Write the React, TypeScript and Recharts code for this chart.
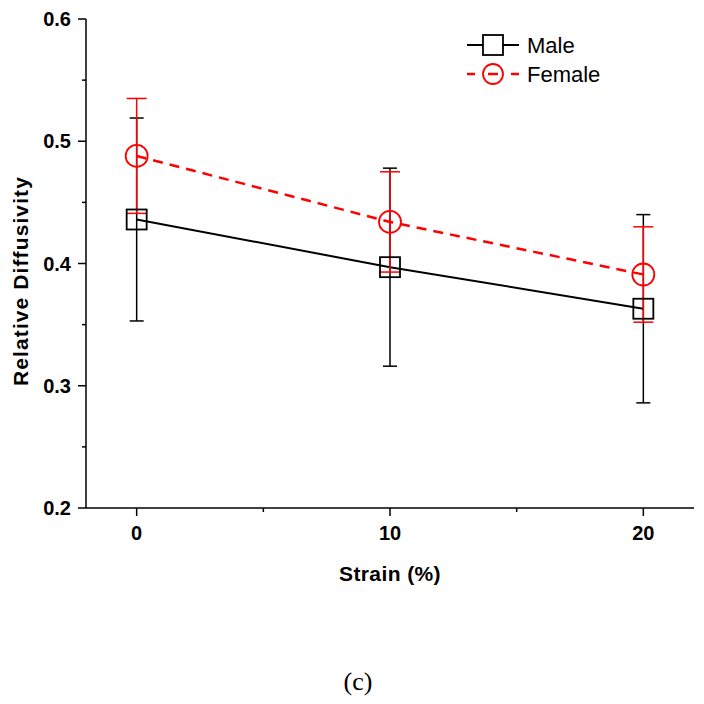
import { LineChart, Line, XAxis, YAxis, ErrorBar, Legend } from "recharts";

const strain = [0, 10, 20];
const maleMean = [0.436, 0.397, 0.363];
const maleErr = [0.083, 0.081, 0.077];
const femaleMean = [0.488, 0.434, 0.391];
const femaleErr = [0.047, 0.041, 0.039];

const xTicks = [0, 5, 10, 15, 20];
const yTicks = [0.2, 0.25, 0.3, 0.35, 0.4, 0.45, 0.5, 0.55, 0.6];

const seriesNames = ["Male", "Female"];

const SANS = "'Liberation Sans', Arial, Helvetica, sans-serif";
const RED = "#ff0000";

const data = strain.map((s, i) => ({
  strain: s,
  male: maleMean[i],
  maleErr: maleErr[i],
  female: femaleMean[i],
  femaleErr: femaleErr[i],
}));

function YTick(props: any) {
  const { x, y, payload } = props;
  const v = payload.value;
  const major = Math.round(v * 100) % 10 === 0;
  return (
    <g>
      <line x1={x} y1={y} x2={x - (major ? 8 : 4)} y2={y} stroke="#000" strokeWidth={1.5} />
      {major && (
        <text
          x={x - 15}
          y={y}
          textAnchor="end"
          dominantBaseline="central"
          fontFamily={SANS}
          fontWeight="bold"
          fontSize={20}
          fill="#000"
        >
          {v.toFixed(1)}
        </text>
      )}
    </g>
  );
}

function XTick(props: any) {
  const { x, y, payload } = props;
  const v = payload.value;
  const major = v % 10 === 0;
  return (
    <g>
      <line x1={x} y1={y} x2={x} y2={y + (major ? 8 : 4)} stroke="#000" strokeWidth={1.5} />
      {major && (
        <text
          x={x}
          y={y + 25}
          textAnchor="middle"
          dominantBaseline="central"
          fontFamily={SANS}
          fontWeight="bold"
          fontSize={20}
          fill="#000"
        >
          {v}
        </text>
      )}
    </g>
  );
}

const SquareDot = (p: any) => (
  <rect
    key={`sq-${p.index}`}
    x={p.cx - 10}
    y={p.cy - 10}
    width={20}
    height={20}
    fill="none"
    stroke="#000"
    strokeWidth={1.8}
  />
);

const CircleDot = (p: any) => (
  <circle key={`ci-${p.index}`} cx={p.cx} cy={p.cy} r={11} fill="none" stroke={RED} strokeWidth={1.8} />
);

function LegendBox() {
  return (
    <svg width={170} height={62} style={{ display: "block" }}>
      <line x1={7} y1={17} x2={59} y2={17} stroke="#000" strokeWidth={2} />
      <rect x={23} y={7} width={20} height={20} fill="#fff" stroke="#000" strokeWidth={1.8} />
      <text x={67} y={17} dominantBaseline="central" fontFamily={SANS} fontSize={22} fill="#000">
        {seriesNames[0]}
      </text>
      <line x1={7} y1={46} x2={15} y2={46} stroke={RED} strokeWidth={2.5} />
      <line x1={28} y1={46} x2={38} y2={46} stroke={RED} strokeWidth={2.5} />
      <line x1={51} y1={46} x2={59} y2={46} stroke={RED} strokeWidth={2.5} />
      <circle cx={33} cy={46} r={10} fill="none" stroke={RED} strokeWidth={1.8} />
      <text x={67} y={46} dominantBaseline="central" fontFamily={SANS} fontSize={22} fill="#000">
        {seriesNames[1]}
      </text>
    </svg>
  );
}

export default function App() {
  return (
    <div style={{ position: "absolute", left: 0, top: 0, width: 704, height: 704, background: "#fff" }}>
      <LineChart width={704} height={704} data={data} margin={{ top: 19, right: 10, bottom: 0, left: 0 }}>
        <XAxis
          dataKey="strain"
          type="number"
          domain={[-2, 22]}
          ticks={xTicks}
          interval={0}
          height={196}
          tickSize={0}
          tickMargin={0}
          tickLine={false}
          tick={<XTick />}
          axisLine={{ stroke: "#000", strokeWidth: 1.5 }}
          label={() => (
            <text
              x={390}
              y={573}
              textAnchor="middle"
              dominantBaseline="central"
              fontFamily={SANS}
              fontWeight="bold"
              fontSize={21}
              letterSpacing={0.4}
              fill="#000"
            >
              Strain (%)
            </text>
          )}
        />
        <YAxis
          type="number"
          domain={[0.2, 0.6]}
          ticks={yTicks}
          interval={0}
          width={86}
          tickSize={0}
          tickMargin={0}
          tickLine={false}
          tick={<YTick />}
          axisLine={{ stroke: "#000", strokeWidth: 1.5 }}
          label={() => (
            <text
              transform="translate(20, 281) rotate(-90)"
              textAnchor="middle"
              dominantBaseline="central"
              fontFamily={SANS}
              fontWeight="bold"
              fontSize={21}
              letterSpacing={1.1}
              fill="#000"
            >
              Relative Diffusivity
            </text>
          )}
        />
        <Legend
          layout="horizontal"
          verticalAlign="middle"
          align="center"
          content={() => <LegendBox />}
          wrapperStyle={{ left: 460, top: 28, width: 170, height: 62 }}
        />
        <Line
          type="linear"
          dataKey="male"
          name={seriesNames[0]}
          stroke="#000"
          strokeWidth={2}
          dot={SquareDot}
          activeDot={false}
          isAnimationActive={false}
        >
          <ErrorBar dataKey="maleErr" direction="y" width={7} stroke="#000" strokeWidth={1.5} isAnimationActive={false} />
        </Line>
        <Line
          type="linear"
          dataKey="female"
          name={seriesNames[1]}
          stroke={RED}
          strokeWidth={2.5}
          strokeDasharray="10 7"
          dot={CircleDot}
          activeDot={false}
          isAnimationActive={false}
        >
          <ErrorBar dataKey="femaleErr" direction="y" width={10} stroke={RED} strokeWidth={1.5} isAnimationActive={false} />
        </Line>
      </LineChart>
      <div
        style={{
          position: "absolute",
          left: 308,
          top: 669,
          width: 100,
          textAlign: "center",
          fontFamily: "'Liberation Serif', 'Times New Roman', serif",
          fontSize: 26,
          lineHeight: "26px",
        }}
      >
        (c)
      </div>
    </div>
  );
}
